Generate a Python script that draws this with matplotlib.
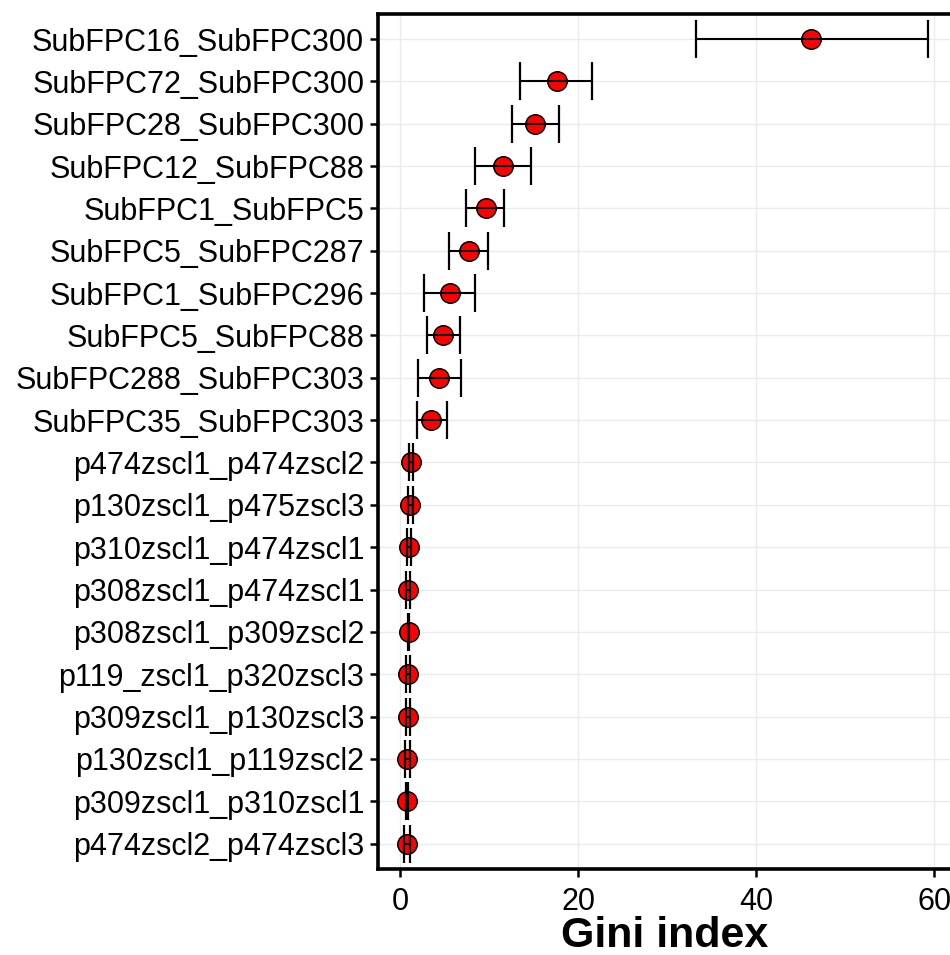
import matplotlib
matplotlib.use("Agg")
import matplotlib.pyplot as plt
import numpy as np

labels = ["SubFPC16_SubFPC300", "SubFPC72_SubFPC300", "SubFPC28_SubFPC300",
          "SubFPC12_SubFPC88", "SubFPC1_SubFPC5", "SubFPC5_SubFPC287",
          "SubFPC1_SubFPC296", "SubFPC5_SubFPC88", "SubFPC288_SubFPC303",
          "SubFPC35_SubFPC303", "p474zscl1_p474zscl2", "p130zscl1_p475zscl3",
          "p310zscl1_p474zscl1", "p308zscl1_p474zscl1", "p308zscl1_p309zscl2",
          "p119_zscl1_p320zscl3", "p309zscl1_p130zscl3", "p130zscl1_p119zscl2",
          "p309zscl1_p310zscl1", "p474zscl2_p474zscl3"]
gini = [46.2, 17.6, 15.2, 11.5, 9.6, 7.7, 5.55, 4.8, 4.4, 3.5,
        1.2, 1.13, 0.98, 0.9, 0.93, 0.86, 0.86, 0.79, 0.79, 0.75]
lower = [33.2, 13.5, 12.6, 8.4, 7.4, 5.5, 2.7, 3.0, 1.95, 1.9,
         1.0, 0.87, 0.75, 0.68, 0.86, 0.6, 0.68, 0.53, 0.68, 0.45]
upper = [59.3, 21.6, 17.8, 14.7, 11.7, 9.9, 8.4, 6.7, 6.8, 5.2,
         1.43, 1.43, 1.24, 1.13, 1.0, 1.05, 1.05, 1.05, 0.9, 1.05]
xticks = [0, 20, 40, 60]

plt.rcParams['font.family'] = ['Liberation Sans', 'DejaVu Sans']

fig = plt.figure(figsize=(9.5, 9.55), dpi=100)
ax = fig.add_axes([378/950, 86/955, 1 - 378/950 + 0.002, (869 - 13.6)/955])

n = len(labels)
y = np.arange(n)[::-1]
g = np.array(gini); lo = np.array(lower); up = np.array(upper)

ax.plot(g, y, 'o', markersize=14, markerfacecolor='#FF0000',
        markeredgecolor='black', markeredgewidth=1.1, zorder=3)
ax.errorbar(g, y, xerr=[g - lo, up - g], fmt='none', ecolor='black',
            elinewidth=1.5, capsize=13.5, capthick=1.6, zorder=4)

ax.set_xlim(-2.5, 62.0)
ax.set_ylim(-0.6, n - 1 + 0.6)
ax.set_yticks(y)
ax.set_yticklabels(labels)
ax.set_xticks(xticks)
ax.set_xticklabels([str(t) for t in xticks])

ax.grid(True, color='#EBEBEB', linewidth=1.0, zorder=0)
ax.set_axisbelow(True)
for s in ['left', 'bottom', 'top']:
    ax.spines[s].set_linewidth(2.6)
    ax.spines[s].set_color('black')
ax.spines['right'].set_visible(False)

ax.tick_params(axis='both', colors='black', width=1.8, length=6,
               labelsize=22)
ax.tick_params(axis='y', pad=4)
ax.tick_params(axis='x', pad=7)
ax.set_xlabel('Gini index', fontsize=31, fontweight='bold', labelpad=-1)

fig.savefig('out.png', dpi=100)
